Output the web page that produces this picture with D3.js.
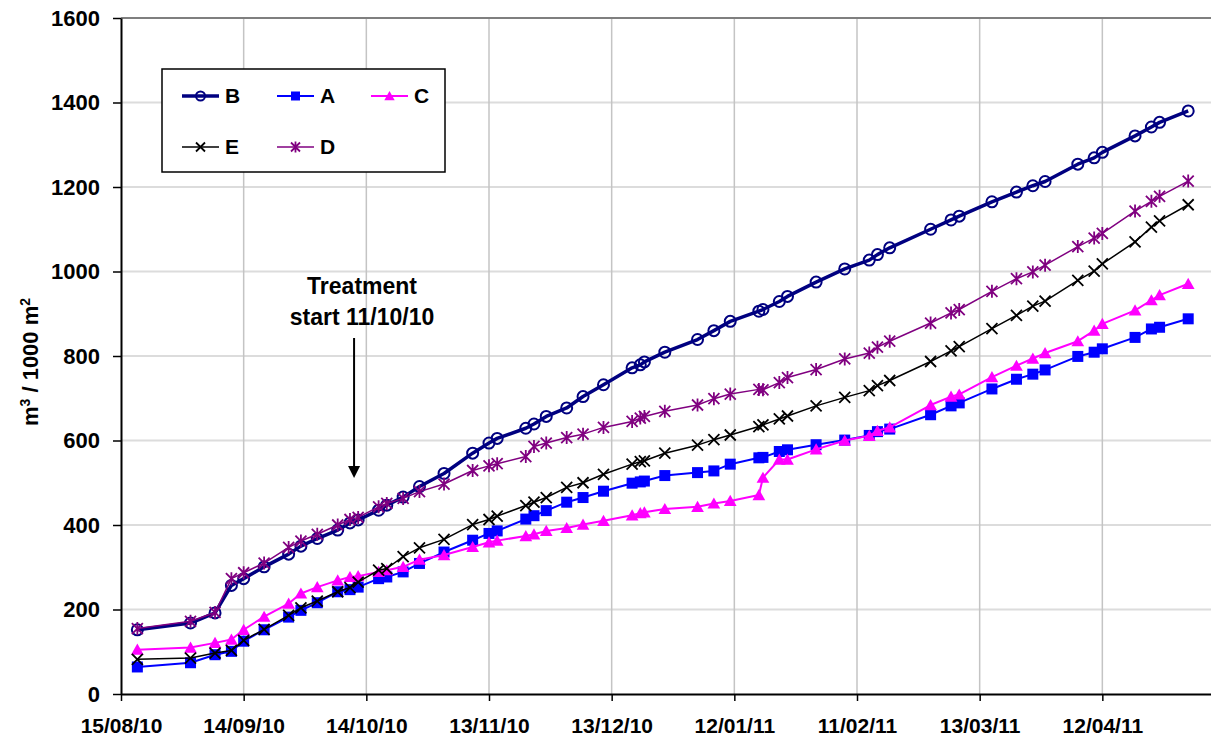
<!DOCTYPE html>
<html>
<head>
<meta charset="utf-8">
<script src="https://cdn.jsdelivr.net/npm/d3@7"></script>
<style>
  body { margin: 0; background: #fff; }
  text { font-family: "Liberation Sans", Arial, sans-serif; font-weight: bold; fill: #000; }
</style>
</head>
<body>
<svg id="chart" width="1211" height="738"></svg>
<script>
// measurement dates (dd/mm/yy)
const dates = [
  "19/08/10","01/09/10","07/09/10","11/09/10","14/09/10","19/09/10","25/09/10","28/09/10",
  "02/10/10","07/10/10","10/10/10","12/10/10","17/10/10","19/10/10","23/10/10","27/10/10",
  "02/11/10","09/11/10","13/11/10","15/11/10","22/11/10","24/11/10","27/11/10","02/12/10",
  "06/12/10","11/12/10","18/12/10","20/12/10","21/12/10","26/12/10","03/01/11","07/01/11",
  "11/01/11","18/01/11","19/01/11","23/01/11","25/01/11","01/02/11","08/02/11","14/02/11",
  "16/02/11","19/02/11","01/03/11","06/03/11","08/03/11","16/03/11","22/03/11","26/03/11",
  "29/03/11","06/04/11","10/04/11","12/04/11","20/04/11","24/04/11","26/04/11","03/05/11"
]

const valuesB = [152,168,192,257,273,301,331,350,368,388,405,412,435,447,466,491,
  522,570,594,605,629,639,657,677,704,732,772,779,786,809,839,860,
  882,906,910,929,941,975,1006,1027,1040,1056,1100,1122,1131,1165,1188,1203,
  1213,1254,1269,1282,1321,1342,1353,1380]
const valuesA = [64,74,93,101,125,152,182,198,216,242,247,253,273,277,289,309,
  336,364,380,386,414,422,434,454,465,480,499,502,504,517,524,528,
  544,559,560,574,578,590,601,612,621,627,661,682,689,722,745,757,
  767,799,809,817,844,864,868,888]
const valuesC = [105,110,121,129,152,183,214,238,253,269,277,279,289,293,301,318,
  329,348,359,363,374,378,386,393,401,410,423,428,430,438,443,451,
  457,471,512,555,555,579,600,611,623,631,684,704,709,750,777,794,
  807,835,860,876,908,932,944,971]
const valuesE = [82,85,97,103,127,153,186,204,220,242,252,265,293,297,325,346,
  366,401,413,421,446,454,465,489,500,520,544,550,552,570,589,602,
  613,633,637,651,658,682,702,718,730,742,787,812,822,865,896,918,
  930,979,1001,1018,1070,1105,1120,1158]
const valuesD = [155,172,193,273,287,310,347,362,378,400,413,418,443,451,463,479,
  497,529,540,545,562,586,594,607,615,631,645,653,657,669,684,699,
  710,721,720,737,749,768,793,807,821,835,878,902,910,953,983,999,
  1015,1059,1079,1090,1143,1166,1178,1214]

const xTickLabels = ["15/08/10","14/09/10","14/10/10","13/11/10","13/12/10","12/01/11","11/02/11","13/03/11","12/04/11"]
const yTicks = [0,200,400,600,800,1000,1200,1400,1600]

const parse = d3.utcParse("%d/%m/%y")

// series order = legend order = drawing order
const series = [
  { name: "B", values: valuesB, color: "#000080", width: 3.5, marker: "circle" },
  { name: "A", values: valuesA, color: "#0000ff", width: 2, marker: "square" },
  { name: "C", values: valuesC, color: "#ff00ff", width: 2, marker: "triangle" },
  { name: "E", values: valuesE, color: "#000000", width: 1.5, marker: "x" },
  { name: "D", values: valuesD, color: "#800080", width: 1.5, marker: "asterisk" }
]

const svg = d3.select("#chart")
const plotLeft = 121, plotTop = 18, plotBottom = 694, plotRight = 1225

const x = d3.scaleUtc()
  .domain([parse("15/08/10"), parse("12/05/11")])
  .range([plotLeft, plotRight])
const y = d3.scaleLinear().domain([0, 1600]).range([plotBottom, plotTop])

// horizontal gridlines
svg.append("g")
  .selectAll("line")
  .data(yTicks.slice(1, -1))
  .join("line")
  .attr("x1", plotLeft).attr("x2", 1211)
  .attr("y1", d => y(d)).attr("y2", d => y(d))
  .attr("stroke", "#dcdcdc").attr("stroke-width", 2)

// vertical gridlines
svg.append("g")
  .selectAll("line")
  .data(xTickLabels.slice(1))
  .join("line")
  .attr("x1", d => x(parse(d))).attr("x2", d => x(parse(d)))
  .attr("y1", plotTop).attr("y2", plotBottom)
  .attr("stroke", "#c4c4c4").attr("stroke-width", 1.5)

// plot area top border
svg.append("line")
  .attr("x1", plotLeft).attr("x2", 1211)
  .attr("y1", y(1600)).attr("y2", y(1600))
  .attr("stroke", "#7f7f7f").attr("stroke-width", 2)

// axes
const yAxis = svg.append("g")
  .attr("transform", `translate(${plotLeft},0)`)
  .call(d3.axisLeft(y).tickValues(yTicks).tickFormat(d3.format("d"))
    .tickSize(8).tickPadding(13).tickSizeOuter(0))
yAxis.select(".domain").attr("stroke", "#000").attr("stroke-width", 2)
yAxis.selectAll(".tick line").attr("stroke", "#000").attr("stroke-width", 1.5)
yAxis.selectAll("text").style("font-size", "22px").style("font-family", "Liberation Sans, Arial, sans-serif").style("font-weight", "bold")

const xAxis = svg.append("g")
  .attr("transform", `translate(0,${plotBottom})`)
  .call(d3.axisBottom(x).tickValues(xTickLabels.map(parse)).tickFormat(d3.utcFormat("%d/%m/%y"))
    .tickSize(7).tickPadding(17).tickSizeOuter(0))
xAxis.select(".domain").attr("stroke", "#000").attr("stroke-width", 2)
xAxis.selectAll(".tick line").attr("stroke", "#000").attr("stroke-width", 1.5)
xAxis.selectAll("text").style("font-size", "21px").style("font-family", "Liberation Sans, Arial, sans-serif").style("font-weight", "bold")

// y axis title
svg.append("text")
  .attr("transform", `translate(38,${(plotTop + plotBottom) / 2 + 6}) rotate(-90)`)
  .attr("text-anchor", "middle")
  .style("font-size", "22px")
  .html('m<tspan dy="-8" style="font-size:14px">3</tspan><tspan dy="8"> / 1000 m</tspan><tspan dy="-8" style="font-size:14px">2</tspan>')

// marker drawing
function drawMarker(g, type, color, s) {
  if (type === "circle") {
    g.append("circle").attr("r", s / 2).attr("fill", "none").attr("stroke", color).attr("stroke-width", 2)
  } else if (type === "square") {
    g.append("rect").attr("x", -s / 2).attr("y", -s / 2).attr("width", s).attr("height", s).attr("fill", color)
  } else if (type === "triangle") {
    const h = s * 0.55
    g.append("path").attr("d", `M0,${-h}L${h * 1.05},${h * 0.85}L${-h * 1.05},${h * 0.85}Z`).attr("fill", color)
  } else if (type === "x") {
    const h = s / 2
    g.append("path").attr("d", `M${-h},${-h}L${h},${h}M${-h},${h}L${h},${-h}`).attr("stroke", color).attr("stroke-width", 1.8)
  } else if (type === "asterisk") {
    const h = s / 2
    g.append("path").attr("d", `M${-h},${-h}L${h},${h}M${-h},${h}L${h},${-h}M0,${-h - 1}L0,${h + 1}`).attr("stroke", color).attr("stroke-width", 1.8)
  }
}

const line = d3.line()
  .x(d => x(d.date))
  .y(d => y(d.value))

series.forEach(s => {
  const pts = dates.map((d, i) => ({ date: parse(d), value: s.values[i] }))
  const g = svg.append("g")
  g.append("path")
    .datum(pts)
    .attr("d", line)
    .attr("fill", "none")
    .attr("stroke", s.color)
    .attr("stroke-width", s.width)
    .attr("stroke-linejoin", "round")
  g.selectAll(".m")
    .data(pts)
    .join("g")
    .attr("class", "m")
    .attr("transform", d => `translate(${x(d.date)},${y(d.value)})`)
    .each(function () { drawMarker(d3.select(this), s.marker, s.color, 11) })
})

// treatment annotation
const tx = x(parse("11/10/10"))
svg.append("line")
  .attr("x1", tx).attr("x2", tx)
  .attr("y1", 338).attr("y2", 468)
  .attr("stroke", "#000").attr("stroke-width", 2)
svg.append("path")
  .attr("d", `M${tx - 6},466L${tx + 6},466L${tx},478Z`)
  .attr("fill", "#000")
svg.append("text")
  .attr("x", tx + 8).attr("y", 294)
  .attr("text-anchor", "middle")
  .style("font-size", "23px")
  .text("Treatment")
svg.append("text")
  .attr("x", tx + 8).attr("y", 325)
  .attr("text-anchor", "middle")
  .style("font-size", "23px")
  .text("start 11/10/10")

// legend
const legend = svg.append("g")
legend.append("rect")
  .attr("x", 162).attr("y", 69).attr("width", 283).attr("height", 103)
  .attr("fill", "#fff").attr("stroke", "#000").attr("stroke-width", 1.5)
const legendPos = [[182, 96], [277, 96], [371, 96], [182, 147], [277, 147]]
series.forEach((s, i) => {
  const [lx, ly] = legendPos[i]
  const g = legend.append("g")
  g.append("line")
    .attr("x1", lx).attr("x2", lx + 37)
    .attr("y1", ly).attr("y2", ly)
    .attr("stroke", s.color).attr("stroke-width", s.width)
  const m = g.append("g").attr("transform", `translate(${lx + 18.5},${ly})`)
  drawMarker(m, s.marker, s.color, 9)
  g.append("text")
    .attr("x", lx + 43).attr("y", ly + 7)
    .style("font-size", "21px")
    .text(s.name)
})
</script>
</body>
</html>
